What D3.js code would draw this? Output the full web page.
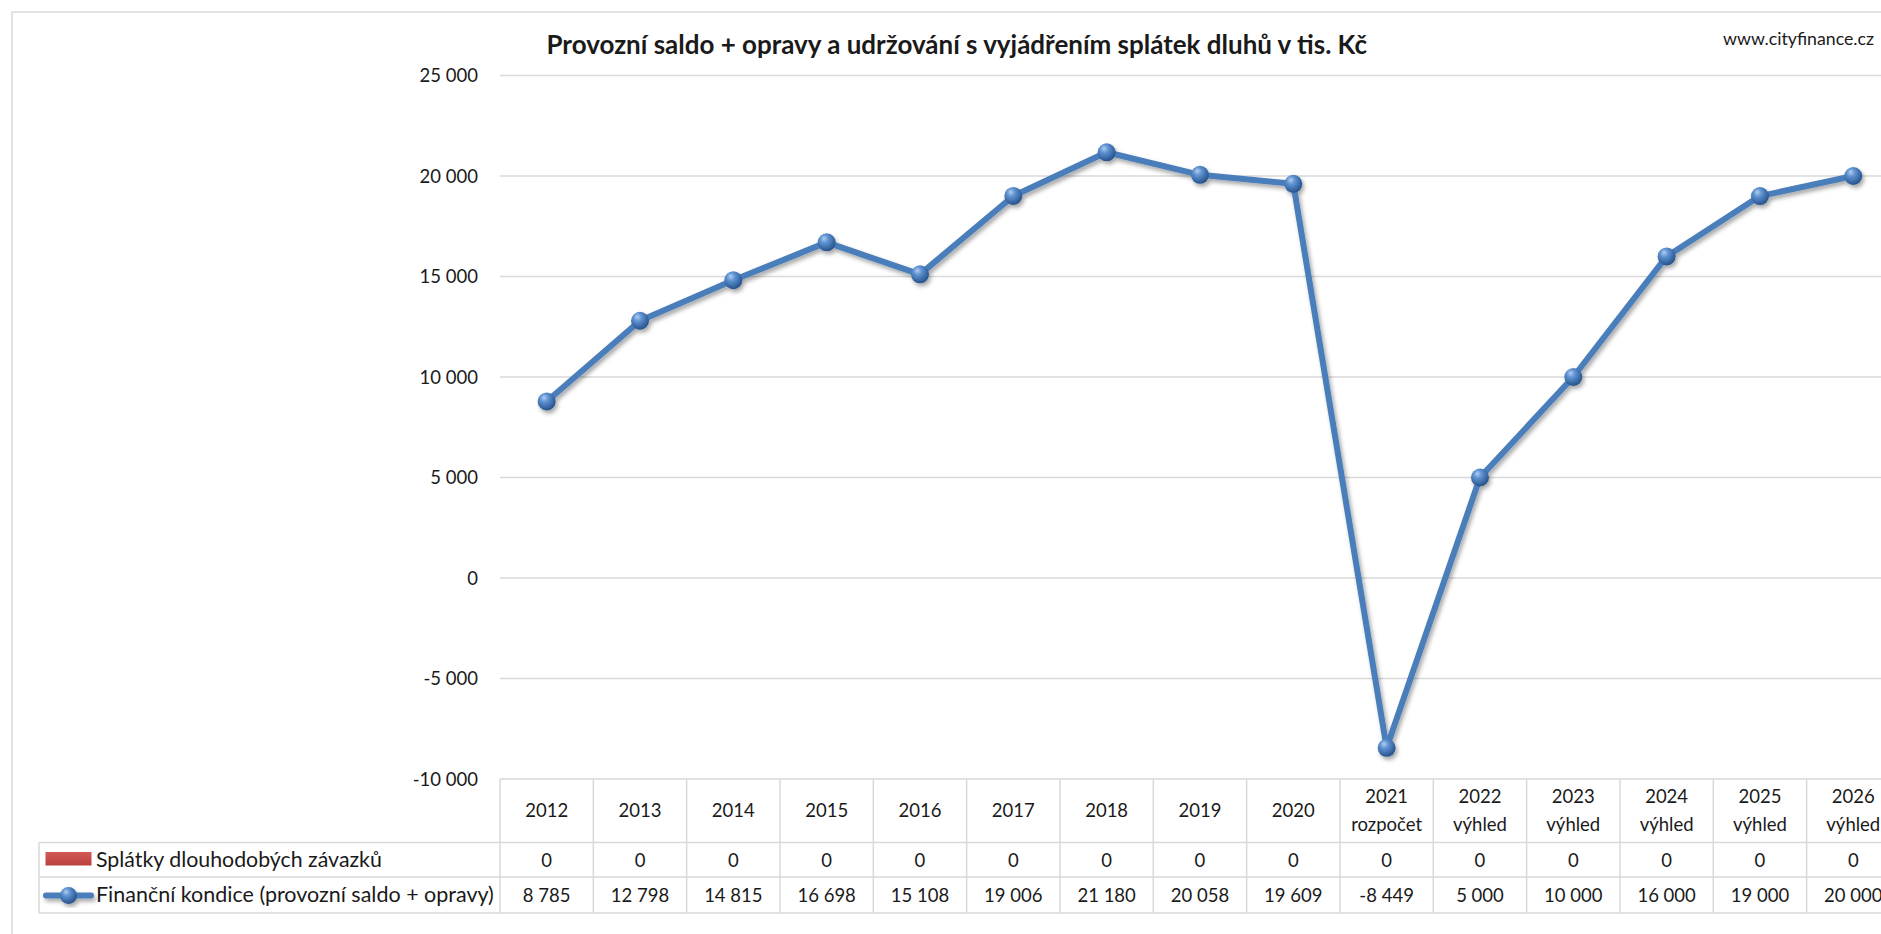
<!DOCTYPE html>
<html>
<head>
<meta charset="utf-8">
<script src="https://cdn.jsdelivr.net/npm/d3@7"></script>
<style>
  html, body { margin: 0; padding: 0; background: #fff; }
  svg { display: block; }
  text { font-family: Lato, "Noto Sans", sans-serif; fill: #1a1a1a; }
</style>
</head>
<body>
<svg id="chart" width="1881" height="934"></svg>
<script>
// Years on the category axis and the second header line under each year
const categories = ["2012", "2013", "2014", "2015", "2016", "2017", "2018", "2019", "2020",
                    "2021", "2022", "2023", "2024", "2025", "2026"];
const categoryNotes = ["", "", "", "", "", "", "", "", "",
                       "rozpočet", "výhled", "výhled", "výhled", "výhled", "výhled"];

// Series values (tis. Kč)
const repayments = [0, 0, 0, 0, 0, 0, 0, 0, 0, 0, 0, 0, 0, 0, 0];
const condition = [8785, 12798, 14815, 16698, 15108, 19006, 21180, 20058, 19609,
                   -8449, 5000, 10000, 16000, 19000, 20000];

const yTicks = [-10000, -5000, 0, 5000, 10000, 15000, 20000, 25000];

const seriesNames = ["Splátky dlouhodobých závazků", "Finanční kondice (provozní saldo + opravy)"];
const titleText = "Provozní saldo + opravy a udržování s vyjádřením splátek dluhů v tis. Kč";
const sourceText = "www.cityfinance.cz";

// Czech number formatting: non-breaking space as thousands separator
const cz = d3.formatLocale({ decimal: ",", thousands: "\u00a0", grouping: [3], currency: ["", " Kč"], minus: "-" });
const fmt = cz.format(",.0f");

const svg = d3.select("#chart");
const W = 1881, H = 934;

const gridColor = "#d9d9d9";
const lineColor = "#4a7ebb";

// plot frame
const plotLeft = 500, colW = 93.33;
const plotRight = plotLeft + colW * categories.length;
const plotTop = 75.5, plotBottom = 779;

const x = d3.scaleBand().domain(categories).range([plotLeft, plotRight]).padding(0);
const y = d3.scaleLinear().domain([-10000, 25000]).range([plotBottom, plotTop]);

// defs: marker sphere gradient, line shadow, legend swatch gradient
const defs = svg.append("defs");
const rg = defs.append("radialGradient").attr("id", "ball")
  .attr("cx", "40%").attr("cy", "35%").attr("r", "65%").attr("fx", "35%").attr("fy", "28%");
rg.append("stop").attr("offset", "0%").attr("stop-color", "#b3cdee");
rg.append("stop").attr("offset", "35%").attr("stop-color", "#5f93d3");
rg.append("stop").attr("offset", "100%").attr("stop-color", "#26528b");

const shadow = defs.append("filter").attr("id", "shadow")
  .attr("x", "-20%").attr("y", "-20%").attr("width", "140%").attr("height", "140%");
shadow.append("feDropShadow").attr("dx", 2).attr("dy", 3).attr("stdDeviation", 2)
  .attr("flood-color", "#000").attr("flood-opacity", 0.35);

const redGrad = defs.append("linearGradient").attr("id", "redSwatch")
  .attr("x1", 0).attr("y1", 0).attr("x2", 0).attr("y2", 1);
redGrad.append("stop").attr("offset", "0%").attr("stop-color", "#d45a57");
redGrad.append("stop").attr("offset", "100%").attr("stop-color", "#b8403d");

const lineGrad = defs.append("linearGradient").attr("id", "legendLine")
  .attr("x1", 0).attr("y1", 0).attr("x2", 0).attr("y2", 1);

// outer chart frame
svg.append("rect").attr("x", 12).attr("y", 12).attr("width", W + 20).attr("height", H + 20)
  .attr("fill", "#fff").attr("stroke", gridColor).attr("stroke-width", 1.5);

// title and source
function fitWidth(sel, target) {
  const w = sel.node().getComputedTextLength();
  const fs = parseFloat(sel.attr("font-size"));
  sel.attr("font-size", (fs * target / w).toFixed(2));
}
const title = svg.append("text").attr("x", 546.5).attr("y", 53.5)
  .attr("font-size", 22).attr("font-weight", 700).attr("fill", "#111").text(titleText);
fitWidth(title, 821);

const src = svg.append("text").attr("x", 1874).attr("y", 45).attr("text-anchor", "end")
  .attr("font-size", 14).attr("fill", "#222").text(sourceText);
fitWidth(src, 151);

// horizontal grid and y labels
const yAxis = d3.axisLeft(y).tickValues(yTicks).tickSize(0).tickPadding(0).tickFormat(fmt);
const gy = svg.append("g").attr("transform", `translate(${plotLeft - 22},0)`).call(yAxis);
gy.select(".domain").remove();
gy.selectAll("text").attr("font-size", 18.5).attr("fill", "#262626")
  .attr("font-family", "Lato, 'Noto Sans', sans-serif").attr("dy", "0.35em");

svg.append("g").selectAll("line").data(yTicks.filter(d => d !== -10000)).join("line")
  .attr("x1", plotLeft).attr("x2", W + 10)
  .attr("y1", d => y(d)).attr("y2", d => y(d))
  .attr("stroke", gridColor).attr("stroke-width", 1.5);

// data table under the plot
const rowTops = [plotBottom, 842.5, 877, 913];
const tableLeft = 39;
const tg = svg.append("g");
tg.append("line").attr("x1", plotLeft).attr("x2", W + 10).attr("y1", rowTops[0]).attr("y2", rowTops[0])
  .attr("stroke", gridColor).attr("stroke-width", 1.5);
rowTops.slice(1).forEach(ry => {
  tg.append("line").attr("x1", tableLeft).attr("x2", W + 10).attr("y1", ry).attr("y2", ry)
    .attr("stroke", gridColor).attr("stroke-width", 1.5);
});
tg.append("line").attr("x1", tableLeft).attr("x2", tableLeft).attr("y1", rowTops[1]).attr("y2", rowTops[3])
  .attr("stroke", gridColor).attr("stroke-width", 1.5);
tg.selectAll("line.col").data(d3.range(categories.length + 1)).join("line").attr("class", "col")
  .attr("x1", i => plotLeft + i * x.bandwidth()).attr("x2", i => plotLeft + i * x.bandwidth())
  .attr("y1", rowTops[0]).attr("y2", rowTops[3])
  .attr("stroke", gridColor).attr("stroke-width", 1.5);

const cellFont = 18.5;
// header cells
categories.forEach((c, i) => {
  const cx = x(c) + x.bandwidth() / 2;
  const t = tg.append("text").attr("x", cx).attr("text-anchor", "middle").attr("font-size", cellFont);
  if (categoryNotes[i]) {
    t.append("tspan").attr("x", cx).attr("y", 803).text(c);
    t.append("tspan").attr("x", cx).attr("y", 831).text(categoryNotes[i]);
  } else {
    t.attr("y", 817).text(c);
  }
});
// value rows
tg.selectAll("text.rep").data(repayments).join("text").attr("class", "rep")
  .attr("x", (d, i) => x(categories[i]) + x.bandwidth() / 2).attr("y", 866.5)
  .attr("text-anchor", "middle").attr("font-size", cellFont).text(d => fmt(d));
tg.selectAll("text.cond").data(condition).join("text").attr("class", "cond")
  .attr("x", (d, i) => x(categories[i]) + x.bandwidth() / 2).attr("y", 901.5)
  .attr("text-anchor", "middle").attr("font-size", cellFont).text(d => fmt(d));

// legend keys inside the table
tg.append("rect").attr("x", 45.5).attr("y", 852).attr("width", 46).attr("height", 13.5)
  .attr("fill", "url(#redSwatch)");
const l1 = tg.append("text").attr("x", 96).attr("y", 866.5).attr("font-size", cellFont).text(seriesNames[0]);
fitWidth(l1, 286);
const lk = tg.append("g").attr("filter", "url(#shadow)");
lk.append("line").attr("x1", 46).attr("x2", 91).attr("y1", 895.5).attr("y2", 895.5)
  .attr("stroke", lineColor).attr("stroke-width", 6).attr("stroke-linecap", "round");
lk.append("circle").attr("cx", 68.5).attr("cy", 895.5).attr("r", 8.5).attr("fill", "url(#ball)");
const l2 = tg.append("text").attr("x", 96).attr("y", 901.5).attr("font-size", cellFont).text(seriesNames[1]);
fitWidth(l2, 398);

// series line with sphere markers
const cx = (d, i) => x(categories[i]) + x.bandwidth() / 2;
const line = d3.line().x(cx).y(d => y(d));
const sg = svg.append("g").attr("filter", "url(#shadow)");
sg.append("path").datum(condition).attr("d", line)
  .attr("fill", "none").attr("stroke", lineColor).attr("stroke-width", 6)
  .attr("stroke-linejoin", "round").attr("stroke-linecap", "round");
sg.selectAll("circle").data(condition).join("circle")
  .attr("cx", cx).attr("cy", d => y(d)).attr("r", 9).attr("fill", "url(#ball)");
</script>
</body>
</html>
